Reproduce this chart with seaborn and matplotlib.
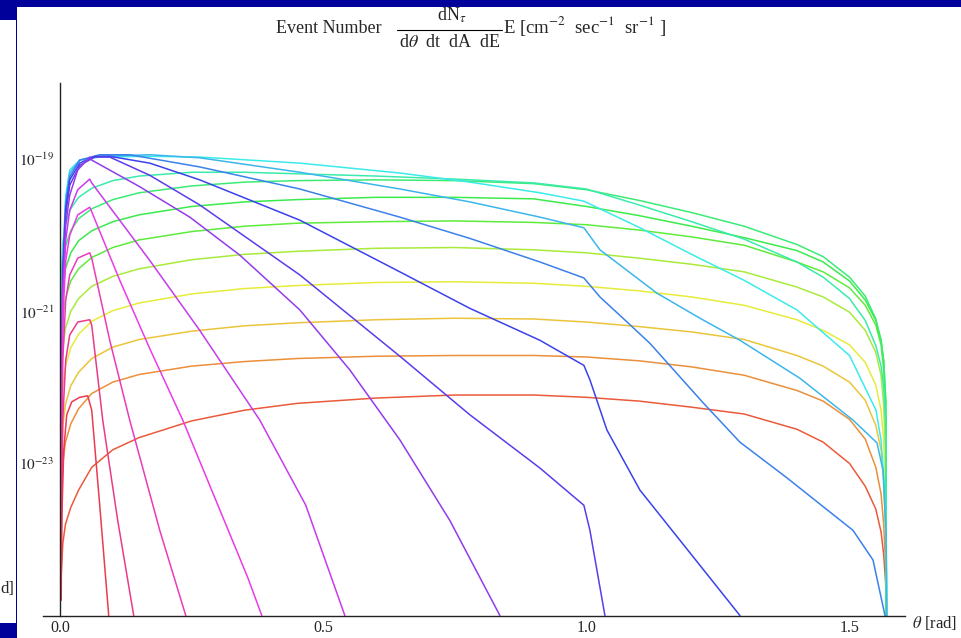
import colorsys
import numpy as np
import pandas as pd
import matplotlib
matplotlib.use("Agg")
import matplotlib.pyplot as plt
import seaborn as sns
from matplotlib.ticker import FixedLocator, NullFormatter
from matplotlib.patches import Rectangle
from matplotlib.lines import Line2D

# ---------------- data (theta in rad, log10 of flux) ----------------
theta_rising = [0.002, 0.005, 0.01, 0.02, 0.035, 0.06, 0.1, 0.15, 0.25, 0.35, 0.45, 0.6,
                0.75, 0.9, 1.0, 1.1, 1.2, 1.3, 1.4, 1.45, 1.5, 1.53, 1.55, 1.56, 1.565,
                1.569, 1.5708]

log_r0 = [-24.45, -24.05, -23.8, -23.58, -23.35, -23.05, -22.82, -22.66, -22.44, -22.3, -22.21, -22.14,
          -22.1, -22.1, -22.13, -22.18, -22.26, -22.35, -22.55, -22.72, -23.0, -23.3, -23.6, -23.9, -24.2, -24.6, -26]
log_r1 = [-23.5, -23.0, -22.72, -22.48, -22.28, -22.08, -21.93, -21.83, -21.72, -21.66, -21.62, -21.59,
          -21.58, -21.58, -21.6, -21.65, -21.73, -21.84, -22.04, -22.18, -22.42, -22.68, -23.05, -23.4, -23.8, -24.4, -26]
log_r2 = [-23.0, -22.5, -22.22, -21.98, -21.8, -21.62, -21.47, -21.37, -21.26, -21.19, -21.15, -21.11,
          -21.09, -21.1, -21.14, -21.2, -21.27, -21.37, -21.58, -21.72, -21.93, -22.17, -22.5, -22.82, -23.22, -24.0, -26]
log_r3 = [-22.5, -22.0, -21.72, -21.48, -21.3, -21.13, -20.99, -20.89, -20.77, -20.7, -20.66, -20.62,
          -20.61, -20.63, -20.67, -20.73, -20.81, -20.92, -21.11, -21.25, -21.44, -21.67, -21.97, -22.3, -22.69, -23.48, -26]
log_r4 = [-22.0, -21.5, -21.22, -21.0, -20.83, -20.67, -20.54, -20.44, -20.32, -20.25, -20.21, -20.17,
          -20.16, -20.19, -20.23, -20.3, -20.38, -20.48, -20.68, -20.81, -21.01, -21.25, -21.54, -21.84, -22.23, -22.96, -26]
log_r5 = [-21.6, -21.1, -20.83, -20.6, -20.44, -20.29, -20.16, -20.06, -19.95, -19.88, -19.84, -19.82,
          -19.81, -19.83, -19.86, -19.93, -20.02, -20.13, -20.35, -20.48, -20.69, -20.92, -21.18, -21.44, -21.77, -22.43, -26]
log_r6 = [-21.2, -20.7, -20.44, -20.23, -20.07, -19.94, -19.82, -19.73, -19.62, -19.56, -19.53, -19.5,
          -19.5, -19.52, -19.62, -19.74, -19.88, -20.03, -20.2, -20.35, -20.6, -20.85, -21.12, -21.38, -21.65, -22.2, -26]
log_r7 = [-20.9, -20.4, -20.14, -19.94, -19.78, -19.65, -19.53, -19.44, -19.35, -19.3, -19.28, -19.27,
          -19.28, -19.32, -19.4, -19.54, -19.7, -19.88, -20.12, -20.28, -20.55, -20.8, -21.1, -21.38, -21.65, -22.17, -26]
log_r8 = [-20.6, -20.1, -19.85, -19.65, -19.5, -19.38, -19.28, -19.22, -19.17, -19.17, -19.19, -19.22,
          -19.26, -19.31, -19.39, -19.6, -19.82, -20.05, -20.35, -20.55, -20.83, -21.12, -21.45, -21.72, -22.0, -22.5, -26]

theta_f9 = [0.0019, 0.0048, 0.0105, 0.0181, 0.0371, 0.0751, 0.1702, 0.2652, 0.4553, 0.6455, 0.7785, 0.9116,
            0.9952, 1.1017, 1.2, 1.2994, 1.4, 1.5, 1.5504, 1.5599, 1.5656, 1.5694, 1.5708]
log_f9 = [-22.89, -20.33, -19.47, -19.14, -19.01, -18.97, -18.96, -18.97, -19.05, -19.18, -19.30, -19.44,
          -19.55, -19.90, -20.25, -20.59, -20.98, -21.58, -22.30, -22.69, -23.22, -24.0, -25.0]
theta_f10 = [0.0019, 0.0048, 0.0105, 0.0181, 0.0371, 0.0751, 0.1702, 0.2652, 0.4553, 0.6455, 0.7785, 0.9116,
             0.9952, 1.0257, 1.134, 1.2158, 1.2918, 1.4059, 1.5067, 1.5523, 1.5637, 1.5694, 1.5708]
log_f10 = [-22.96, -20.39, -19.54, -19.18, -19.01, -18.96, -18.94, -18.98, -19.17, -19.39, -19.56, -19.76,
           -19.90, -20.19, -20.76, -21.09, -21.38, -21.88, -22.43, -22.73, -23.09, -23.88, -25.0]
theta_f11 = [0.0019, 0.0048, 0.0105, 0.0181, 0.0371, 0.0751, 0.1321, 0.2652, 0.4553, 0.6455, 0.7785, 0.9116,
             0.9952, 1.0257, 1.0789, 1.1207, 1.2215, 1.2918, 1.3812, 1.5067, 1.5447, 1.5675]
log_f11 = [-23.02, -20.46, -19.60, -19.23, -19.01, -18.94, -18.94, -19.10, -19.39, -19.76, -20.04, -20.35,
           -20.56, -20.81, -21.15, -21.42, -22.20, -22.72, -23.19, -23.88, -24.27, -25.0]
theta_f12 = [0.0019, 0.0048, 0.0105, 0.0181, 0.0371, 0.0656, 0.0941, 0.1702, 0.2652, 0.4553, 0.6455, 0.7785,
             0.9116, 0.9952, 1.0067, 1.039, 1.1017, 1.2918]
log_f12 = [-23.09, -20.52, -19.67, -19.27, -19.05, -18.96, -18.96, -19.05, -19.27, -19.80, -20.48, -20.96,
           -21.38, -21.71, -21.90, -22.56, -23.35, -25.0]
theta_f13 = [0.0019, 0.0048, 0.0105, 0.0181, 0.0371, 0.0656, 0.0941, 0.1702, 0.2652, 0.4553, 0.6455, 0.7785,
             0.9116, 0.9952, 1.0067, 1.0352]
log_f13 = [-23.22, -20.59, -19.73, -19.34, -19.08, -18.97, -18.97, -19.21, -19.60, -20.52, -21.59, -22.36,
           -23.06, -23.55, -23.88, -25.0]
theta_f14 = [0.0019, 0.0048, 0.0105, 0.0181, 0.0333, 0.0561, 0.0599, 0.1511, 0.2462, 0.3413, 0.4553, 0.5504,
             0.6455, 0.7405, 0.8356]
log_f14 = [-23.35, -20.72, -19.86, -19.47, -19.14, -18.97, -19.01, -19.36, -19.76, -20.26, -20.98, -21.77,
           -22.69, -23.75, -25.0]
theta_f15 = [0.0019, 0.0048, 0.0105, 0.0181, 0.0333, 0.0561, 0.0599, 0.1702, 0.2652, 0.3793, 0.4667, 0.5409]
log_f15 = [-23.48, -20.85, -20.06, -19.67, -19.40, -19.26, -19.31, -20.33, -21.25, -22.43, -23.55, -25.0]
theta_f16 = [0.0019, 0.0048, 0.0105, 0.0181, 0.0333, 0.0561, 0.0599, 0.1131, 0.1702, 0.2329, 0.3564, 0.3831]
log_f16 = [-23.75, -21.11, -20.33, -20.0, -19.73, -19.63, -19.69, -20.59, -21.49, -22.43, -24.50, -25.0]
theta_f17 = [0.0019, 0.0048, 0.0105, 0.0181, 0.0333, 0.0561, 0.0599, 0.0941, 0.1321, 0.1892, 0.2386]
log_f17 = [-24.01, -21.64, -20.85, -20.52, -20.30, -20.23, -20.30, -21.38, -22.43, -23.88, -25.0]
theta_f18 = [0.0019, 0.0048, 0.0105, 0.0181, 0.0333, 0.0561, 0.0599, 0.0808, 0.1093, 0.1397]
log_f18 = [-24.40, -22.43, -21.64, -21.31, -21.14, -21.11, -21.18, -22.43, -23.75, -25.0]
theta_f19 = [0.0019, 0.0029, 0.0067, 0.0124, 0.0219, 0.0371, 0.0523, 0.0599, 0.0751, 0.0922]
log_f19 = [-24.80, -23.75, -22.83, -22.36, -22.19, -22.13, -22.11, -22.30, -23.55, -25.0]

curve_hues = [0.03, 0.08, 0.13, 0.17, 0.23, 0.30, 0.35, 0.39, 0.44, 0.50,
              0.55, 0.60, 0.66, 0.70, 0.75, 0.80, 0.84, 0.88, 0.93, 0.98]

x_tick_values = [0.0, 0.5, 1.0, 1.5]
x_tick_labels = ["0.0", "0.5", "1.0", "1.5"]
y_tick_values = [1e-23, 1e-21, 1e-19]
y_tick_labels = [r"$10^{-23}$", r"$10^{-21}$", r"$10^{-19}$"]

# ---------------- assemble ----------------
curves = [(theta_rising, lg) for lg in (log_r0, log_r1, log_r2, log_r3, log_r4, log_r5, log_r6, log_r7, log_r8)]
curves += [(theta_f9, log_f9), (theta_f10, log_f10), (theta_f11, log_f11), (theta_f12, log_f12),
           (theta_f13, log_f13), (theta_f14, log_f14), (theta_f15, log_f15), (theta_f16, log_f16),
           (theta_f17, log_f17), (theta_f18, log_f18), (theta_f19, log_f19)]

rows = []
for i, (th, lg) in enumerate(curves):
    for t, v in zip(th, lg):
        rows.append({"curve": f"c{i:02d}", "theta": t, "flux": 10.0 ** v})
df = pd.DataFrame(rows)
palette = {f"c{i:02d}": colorsys.hsv_to_rgb(h, 0.75, 0.92) for i, h in enumerate(curve_hues)}

sns.set_theme(style="white")
plt.rcParams["font.family"] = ["Liberation Serif", "DejaVu Serif"]
plt.rcParams["mathtext.fontset"] = "stix"

W, H = 961, 638
fig = plt.figure(figsize=(W / 100, H / 100), dpi=100)
fig.patch.set_facecolor("white")


def px(x, y):
    return x / W, 1 - y / H


ax = fig.add_axes([43 / W, 1 - 615.5 / H, (905 - 43) / W, (615.5 - 83.3) / H])
ax.set_facecolor("white")
ax.set_yscale("log")
sns.lineplot(data=df, x="theta", y="flux", hue="curve", units="curve", estimator=None,
             palette=palette, sort=False, legend=False, linewidth=1.1, ax=ax)
ax.set_xlim(-0.0327, 1.6055)
ax.set_ylim(1e-25, 1e-18)
ax.set_xlabel("")
ax.set_ylabel("")
ax.grid(False)

for s in ("top", "right"):
    ax.spines[s].set_visible(False)
ax.spines["left"].set_position(("data", 0))
for s in ("left", "bottom"):
    ax.spines[s].set_color("#222222")
    ax.spines[s].set_linewidth(1.0)

ax.xaxis.set_major_locator(FixedLocator(x_tick_values))
ax.set_xticklabels(x_tick_labels)
ax.xaxis.set_minor_locator(FixedLocator([k / 10 for k in range(1, 15) if k % 5 != 0]))
ax.yaxis.set_major_locator(FixedLocator(y_tick_values))
ax.set_yticklabels(y_tick_labels)
minor_y = [m * 10.0 ** e for e in range(-25, -18) for m in range(1, 10)
           if not (m == 1 and 10.0 ** e in y_tick_values)]
ax.yaxis.set_minor_locator(FixedLocator(minor_y))
ax.yaxis.set_minor_formatter(NullFormatter())
ax.xaxis.set_minor_formatter(NullFormatter())
ax.tick_params(which="both", direction="in", color="#222222")
ax.tick_params(axis="x", which="major", length=5, width=0.8, labelsize=11.5, pad=3.5)
ax.tick_params(axis="x", which="minor", length=3, width=0.7)
ax.tick_params(axis="y", which="major", length=6, width=0.8, labelsize=11, pad=4.5)
ax.tick_params(axis="y", which="minor", length=3, width=0.7)

# title pieces
fs = 13
fig.text(*px(276, 33), "Event Number", fontsize=fs, ha="left", va="baseline")
fig.text(*px(452, 21), r"dN$_{\tau}$", fontsize=fs, ha="center", va="baseline")
fig.add_artist(Line2D([397 / W, 502 / W], [1 - 30 / H, 1 - 30 / H], color="black", lw=0.8))
fig.text(*px(449.5, 47), r"d$\theta$  dt  dA  dE", fontsize=fs, ha="center", va="baseline")
fig.text(*px(503, 33), r"E [cm$^{-2}$  sec$^{-1}$  sr$^{-1}$ ]", fontsize=13.5, ha="left", va="baseline")

# axis label
fig.text(*px(912, 628), r"$\theta$ [rad]", fontsize=12, ha="left", va="baseline")
fig.text(*px(0, 593), "d]", fontsize=12, ha="left", va="baseline")

# blue frame remnants
blue = "#00009a"
for (x0, y0, w, h) in [(0, 0, W, 6.7), (0, 0, 16.5, 20), (16, 0, 1.3, 623), (0, 622.7, 16.7, 16)]:
    fig.add_artist(Rectangle((x0 / W, 1 - (y0 + h) / H), w / W, h / H, transform=fig.transFigure,
                             facecolor=blue, edgecolor="none", zorder=10))

fig.savefig("out.png", dpi=100)
